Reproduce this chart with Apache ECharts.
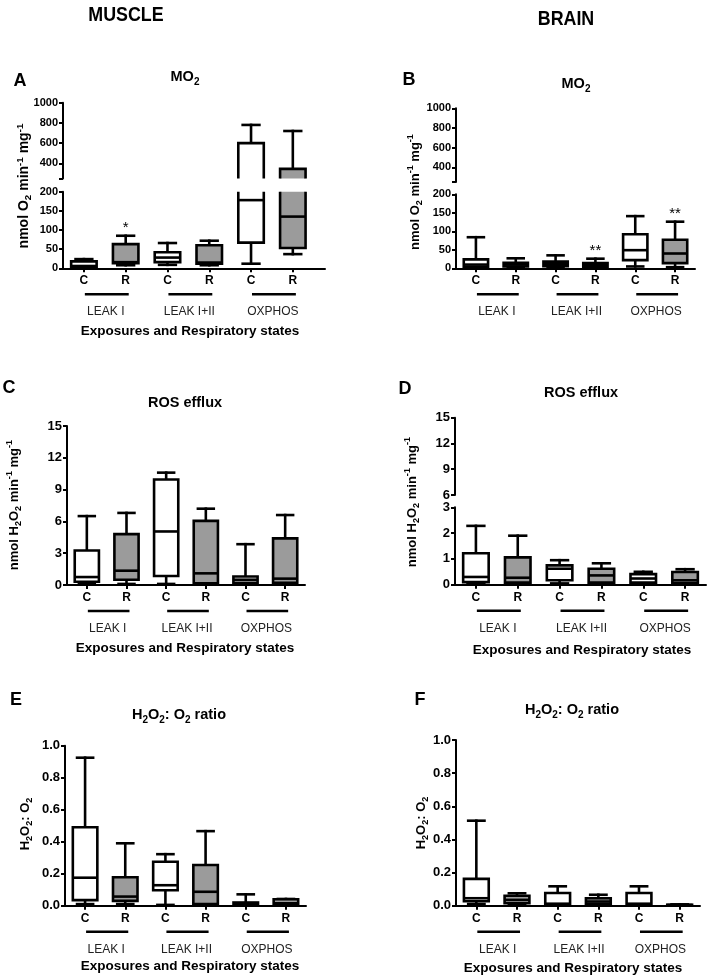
<!DOCTYPE html>
<html><head><meta charset="utf-8">
<script src="https://cdn.jsdelivr.net/npm/echarts@6/dist/echarts.min.js"></script>
<style>html,body{margin:0;padding:0;background:#fff}#c{width:709px;height:978px}</style>
</head><body><div id="c"></div>
<script>
// ---------------- DATA ----------------
const categories = ['C', 'R', 'C', 'R', 'C', 'R'];
const groups = ['LEAK I', 'LEAK I+II', 'OXPHOS'];
// each row: [min, Q1, median, Q3, max]
const muscleMO2 = [
  [1, 3, 6, 18, 24],
  [8, 13, 16, 63, 85],
  [9, 16, 28, 42, 66],
  [8, 12, 15, 60, 72],
  [12, 67, 178, 600, 780],
  [37, 53, 135, 345, 720]
];
const brainMO2 = [
  [2, 4, 10, 24, 84],
  [2, 5, 10, 15, 27],
  [3, 6, 12, 18, 35],
  [2, 4, 9, 14, 26],
  [5, 22, 49, 92, 141],
  [3, 14, 40, 77, 126]
];
const muscleROS = [
  [0.1, 0.3, 0.75, 3.25, 6.5],
  [0.1, 0.5, 1.35, 4.8, 6.8],
  [0.1, 0.85, 5.05, 9.95, 10.6],
  [0.05, 0.15, 1.1, 6.05, 7.2],
  [0.05, 0.2, 0.5, 0.8, 3.85],
  [0.05, 0.2, 0.6, 4.4, 6.6]
];
const brainROS = [
  [0.05, 0.1, 0.3, 1.22, 2.28],
  [0.03, 0.08, 0.27, 1.06, 1.9],
  [0.05, 0.17, 0.62, 0.75, 0.95],
  [0.03, 0.08, 0.36, 0.62, 0.83],
  [0.04, 0.08, 0.24, 0.41, 0.5],
  [0.02, 0.05, 0.17, 0.49, 0.6]
];
const muscleRatio = [
  [0.01, 0.035, 0.175, 0.49, 0.925],
  [0.01, 0.03, 0.057, 0.178, 0.39],
  [0.005, 0.097, 0.128, 0.275, 0.322],
  [0.0, 0.01, 0.087, 0.254, 0.466],
  [0.0, 0.004, 0.01, 0.02, 0.071],
  [0.0, 0.005, 0.015, 0.04, 0.042]
];
const brainRatio = [
  [0.01, 0.027, 0.045, 0.162, 0.513],
  [0.005, 0.015, 0.035, 0.06, 0.075],
  [0.0, 0.008, 0.012, 0.077, 0.117],
  [0.005, 0.01, 0.025, 0.045, 0.066],
  [0.0, 0.008, 0.012, 0.077, 0.117],
  [0.002, 0.003, 0.004, 0.006, 0.008]
];
const muscleMO2Sig = ['', '*', '', '', '', ''];
const brainMO2Sig = ['', '', '', '**', '', '**'];
// tick labels
const mo2UpperLabels = [400, 600, 800, 1000];
const mo2UpperTicks = [250, 400, 600, 800, 1000];

// ---------------- STYLE / LAYOUT ----------------
const FONT = "'Liberation Sans', Arial, Helvetica, sans-serif";
const GREY = '#9b9b9b';
const LW = 2.6;
const AXW = 2;

const panels = [
  {data: muscleMO2, sig: muscleMO2Sig, left: 63, width: 262, xMax: 6.27, lab: 11,
   segs: [{top: 102.7, height: 75.8, min: 250, max: 1000, labels: mo2UpperLabels, ticks: mo2UpperTicks},
          {top: 191.7, height: 76.6, min: 0, max: 200, interval: 50}]},
  {data: brainMO2, sig: brainMO2Sig, left: 456, width: 239, xMax: 6, lab: 11,
   segs: [{top: 108.3, height: 73.7, min: 250, max: 1000, labels: mo2UpperLabels, ticks: mo2UpperTicks},
          {top: 194.3, height: 74, min: 0, max: 200, interval: 50}]},
  {data: muscleROS, left: 67, width: 238, xMax: 6, lab: 13,
   segs: [{top: 426, height: 159, min: 0, max: 15, interval: 3}]},
  {data: brainROS, left: 455, width: 251, xMax: 6, lab: 13,
   segs: [{top: 417.7, height: 77.3, min: 6, max: 15, interval: 3},
          {top: 507.3, height: 77.4, min: 0, max: 3, interval: 1}]},
  {data: muscleRatio, left: 65, width: 241, xMax: 6, lab: 13, fmt: v => v.toFixed(1),
   segs: [{top: 745.7, height: 160, min: 0, max: 1, interval: 0.2}]},
  {data: brainRatio, left: 456, width: 244, xMax: 6, lab: 13, fmt: v => v.toFixed(1),
   segs: [{top: 740, height: 165.7, min: 0, max: 1, interval: 0.2}]}
];

const centers = categories.map((c, i) => i + 0.5);

function ln(x1, y1, x2, y2) {
  return {type: 'line', shape: {x1, y1, x2, y2}, style: {stroke: '#000', lineWidth: LW, lineCap: 'square'}};
}

function makeBox(lo, hi, sig) {
  return function (params, api) {
    const x = api.value(0);
    const mn = api.value(1), q1 = api.value(2), md = api.value(3), q3 = api.value(4), mx = api.value(5);
    const band = api.size([1, 0])[0];
    const hw = band * 0.305, cw = band * 0.2;
    const cx = api.coord([x, lo])[0];
    const Y = v => api.coord([x, Math.max(lo, Math.min(hi, v))])[1];
    const inR = v => v >= lo && v <= hi;
    const fill = params.dataIndex % 2 ? GREY : '#ffffff';
    const ch = [];
    if (mx > lo && q3 < hi) {
      ch.push(ln(cx, Y(q3), cx, Y(mx)));
      if (inR(mx)) ch.push(ln(cx - cw, Y(mx), cx + cw, Y(mx)));
    }
    if (q1 > lo && mn < hi) {
      ch.push(ln(cx, Y(q1), cx, Y(mn)));
      if (inR(mn)) ch.push(ln(cx - cw, Y(mn), cx + cw, Y(mn)));
    }
    if (q3 > lo && q1 < hi) {
      const yt = Y(q3), yb = Y(q1), l = cx - hw, r = cx + hw;
      ch.push({type: 'rect', shape: {x: l, y: yt, width: 2 * hw, height: yb - yt}, style: {fill: fill, stroke: null}});
      const topIn = inR(q3), botIn = inR(q1);
      let pts;
      if (topIn && botIn) {
        ch.push({type: 'rect', shape: {x: l, y: yt, width: 2 * hw, height: yb - yt},
                 style: {fill: 'none', stroke: '#000', lineWidth: LW, lineJoin: 'miter'}});
      } else if (topIn) {
        pts = [[l, yb], [l, yt], [r, yt], [r, yb]];
      } else if (botIn) {
        pts = [[l, yt], [l, yb], [r, yb], [r, yt]];
      } else {
        ch.push({type: 'line', shape: {x1: l, y1: yt, x2: l, y2: yb}, style: {stroke: '#000', lineWidth: LW}});
        ch.push({type: 'line', shape: {x1: r, y1: yt, x2: r, y2: yb}, style: {stroke: '#000', lineWidth: LW}});
      }
      if (pts) ch.push({type: 'polyline', shape: {points: pts}, style: {stroke: '#000', lineWidth: LW, fill: null, lineJoin: 'miter'}});
      if (inR(md)) ch.push({type: 'line', shape: {x1: l, y1: Y(md), x2: r, y2: Y(md)}, style: {stroke: '#000', lineWidth: LW}});
    }
    if (sig && sig[params.dataIndex] && inR(mx)) {
      ch.push({type: 'text', x: cx, y: Y(mx) - 7.5,
        style: {text: sig[params.dataIndex], fill: '#000', font: '15px ' + FONT,
                align: 'center', verticalAlign: 'middle', textAlign: 'center', textVerticalAlign: 'middle'}});
    }
    return {type: 'group', children: ch};
  };
}

function makeGroups(lo) {
  return function (params, api) {
    const x = api.value(0);
    const p = api.coord([x, lo]);
    const band = api.size([1, 0])[0];
    const w = band * 1.05;
    const cx = p[0] + 2;
    return {type: 'group', children: [
      {type: 'line', shape: {x1: cx - w / 2, y1: p[1] + 26, x2: cx + w / 2, y2: p[1] + 26},
       style: {stroke: '#000', lineWidth: 2.6}},
      {type: 'text', x: p[0] + 1, y: p[1] + 43.5,
       style: {text: groups[params.dataIndex], fill: '#222', font: '12px ' + FONT,
               align: 'center', verticalAlign: 'middle', textAlign: 'center', textVerticalAlign: 'middle'}}
    ]};
  };
}

const grid = [], xAxis = [], yAxis = [], series = [];
panels.forEach(pn => {
  pn.segs.forEach((sg, si) => {
    const g = grid.length;
    const bottom = si === pn.segs.length - 1;
    grid.push({left: pn.left, top: sg.top, width: pn.width, height: sg.height, containLabel: false});
    xAxis.push({
      gridIndex: g, type: 'value', min: 0, max: pn.xMax, show: bottom,
      axisLine: {show: true, lineStyle: {color: '#000', width: AXW}},
      axisTick: {show: true, customValues: centers, length: 4, lineStyle: {color: '#000', width: AXW}},
      axisLabel: {customValues: centers, formatter: v => categories[Math.round(v - 0.5)] || '',
                  color: '#000', fontWeight: 'bold', fontSize: 12, fontFamily: FONT, margin: 6.5},
      splitLine: {show: false}
    });
    const ya = {
      gridIndex: g, type: 'value', min: sg.min, max: sg.max,
      axisLine: {show: true, lineStyle: {color: '#000', width: AXW}},
      axisTick: {show: true, length: 4, lineStyle: {color: '#000', width: AXW}},
      axisLabel: {color: '#000', fontWeight: 'bold', fontSize: pn.lab, fontFamily: FONT, margin: 5,
                  formatter: pn.fmt || (v => String(v))},
      splitLine: {show: false}
    };
    if (sg.interval) ya.interval = sg.interval;
    if (sg.labels) { ya.axisLabel.customValues = sg.labels; ya.axisTick.customValues = sg.ticks; }
    yAxis.push(ya);
    series.push({
      type: 'custom', xAxisIndex: g, yAxisIndex: g, silent: true, z: 5,
      renderItem: makeBox(sg.min, sg.max, pn.sig),
      encode: {x: 0, y: [1, 2, 3, 4, 5]},
      data: pn.data.map((d, i) => [centers[i]].concat(d))
    });
    if (bottom) {
      series.push({
        type: 'custom', xAxisIndex: g, yAxisIndex: g, silent: true, clip: false,
        renderItem: makeGroups(sg.min),
        encode: {x: 0, y: 1},
        data: groups.map((n, i) => [2 * i + 1, sg.min])
      });
    }
  });
});

// ---------------- TEXT ----------------
function richSet(ns) {
  return {
    n: {fontSize: ns, fontWeight: 'bold', fontFamily: FONT, fill: '#000', lineHeight: 18},
    s: {fontSize: ns * 0.7, fontWeight: 'bold', fontFamily: FONT, fill: '#000', lineHeight: 7, verticalAlign: 'bottom'},
    p: {fontSize: ns * 0.7, fontWeight: 'bold', fontFamily: FONT, fill: '#000', lineHeight: 8, verticalAlign: 'top'},
    t: {fontSize: 14.5, fontWeight: 'bold', fontFamily: FONT, fill: '#000', lineHeight: 20},
    ts: {fontSize: 10, fontWeight: 'bold', fontFamily: FONT, fill: '#000', lineHeight: 8, verticalAlign: 'bottom'}
  };
}
function txt(x, y, text, font, extra) {
  return Object.assign({type: 'text', x, y, silent: true,
    style: {text, font, fill: '#000', align: 'center', verticalAlign: 'middle',
            textAlign: 'center', textVerticalAlign: 'middle'}}, extra || {});
}
function rtxt(x, y, text, rot, ns) {
  return {type: 'text', x, y, rotation: rot ? Math.PI / 2 : 0, silent: true,
    style: {text, rich: richSet(ns || 13), fill: '#000', align: 'center', verticalAlign: 'middle',
            textAlign: 'center', textVerticalAlign: 'middle'}};
}
const nameMO2 = '{n|nmol O}{s|2}{n| min}{p|-1}{n| mg}{p|-1}';
const nameROS = '{n|nmol H}{s|2}{n|O}{s|2}{n| min}{p|-1}{n| mg}{p|-1}';
const nameRatio = '{n|H}{s|2}{n|O}{s|2}{n|: O}{s|2}';
const titleMO2 = '{t|MO}{ts|2}';
const titleRatio = '{t|H}{ts|2}{t|O}{ts|2}{t|: O}{ts|2}{t| ratio}';
const xTitle = 'Exposures and Respiratory states';
const BIG = 'bold 21px ' + FONT;
const LET = 'bold 18px ' + FONT;
const XT = 'bold 13.5px ' + FONT;
const graphic = [
  txt(126, 15, 'MUSCLE', BIG, {scaleX: 0.85}),
  txt(566, 19, 'BRAIN', BIG, {scaleX: 0.85}),
  txt(20, 81, 'A', LET), txt(409, 80, 'B', LET),
  txt(9, 388, 'C', LET), txt(405, 389, 'D', LET),
  txt(16, 700, 'E', LET), txt(420, 700, 'F', LET),
  rtxt(185, 77, titleMO2), rtxt(576, 84, titleMO2),
  txt(185, 402.7, 'ROS efflux', 'bold 14.5px ' + FONT),
  txt(581, 392.7, 'ROS efflux', 'bold 14.5px ' + FONT),
  rtxt(179, 715, titleRatio), rtxt(572, 710, titleRatio),
  rtxt(24, 186, nameMO2, true, 14), rtxt(415, 192, nameMO2, true, 13),
  rtxt(14, 505, nameROS, true, 13), rtxt(412, 502, nameROS, true, 13),
  rtxt(25, 824, nameRatio, true, 13), rtxt(421, 823, nameRatio, true, 13),
  txt(190, 331, xTitle, XT), txt(185, 648, xTitle, XT),
  txt(582, 650, xTitle, XT), txt(190, 966, xTitle, XT), txt(573, 968, xTitle, XT)
];

const chart = echarts.init(document.getElementById('c'), null, {renderer: 'canvas'});
chart.setOption({
  backgroundColor: '#ffffff',
  animation: false,
  grid, xAxis, yAxis, series, graphic
});
</script></body></html>
